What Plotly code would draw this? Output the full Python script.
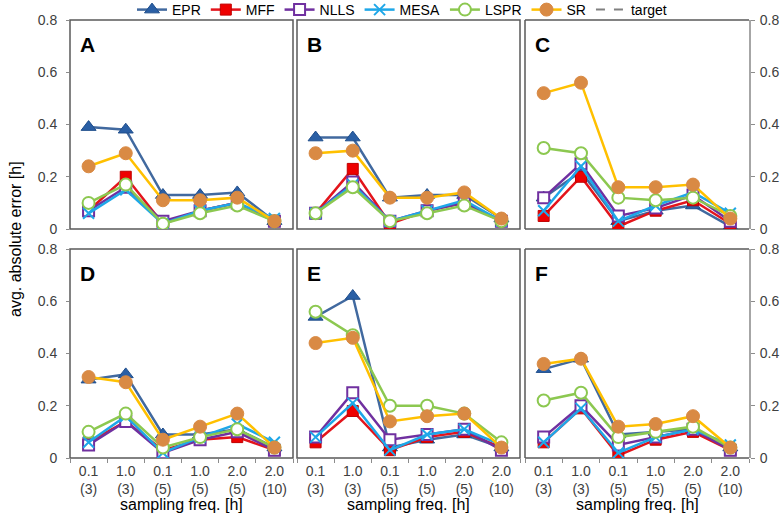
import plotly.graph_objects as go

categories = ["0.1<br>(3)", "1.0<br>(3)", "0.1<br>(5)", "1.0<br>(5)", "2.0<br>(5)", "2.0<br>(10)"]
panel_labels = ["A", "B", "C", "D", "E", "F"]

# values per panel A..F
EPR = [
    [0.39, 0.38, 0.13, 0.13, 0.14, 0.03],
    [0.35, 0.35, 0.12, 0.13, 0.13, 0.04],
    [0.12, 0.22, 0.03, 0.07, 0.09, 0.01],
    [0.30, 0.32, 0.09, 0.09, 0.11, 0.04],
    [0.54, 0.62, 0.04, 0.07, 0.09, 0.04],
    [0.34, 0.38, 0.09, 0.10, 0.11, 0.04],
]
MFF = [
    [0.07, 0.20, 0.02, 0.07, 0.10, 0.03],
    [0.06, 0.23, 0.02, 0.07, 0.10, 0.03],
    [0.05, 0.20, 0.01, 0.07, 0.11, 0.02],
    [0.06, 0.14, 0.03, 0.07, 0.08, 0.03],
    [0.06, 0.18, 0.03, 0.08, 0.10, 0.04],
    [0.06, 0.19, 0.01, 0.07, 0.10, 0.03],
]
NLLS = [
    [0.07, 0.16, 0.03, 0.07, 0.10, 0.03],
    [0.06, 0.18, 0.03, 0.07, 0.10, 0.03],
    [0.12, 0.25, 0.05, 0.08, 0.13, 0.03],
    [0.05, 0.14, 0.02, 0.07, 0.10, 0.03],
    [0.08, 0.25, 0.07, 0.09, 0.11, 0.03],
    [0.08, 0.20, 0.05, 0.08, 0.11, 0.03],
]
MESA = [
    [0.06, 0.15, 0.02, 0.07, 0.10, 0.04],
    [0.06, 0.17, 0.03, 0.07, 0.11, 0.03],
    [0.07, 0.24, 0.03, 0.09, 0.14, 0.06],
    [0.06, 0.16, 0.02, 0.08, 0.13, 0.06],
    [0.08, 0.21, 0.03, 0.09, 0.11, 0.05],
    [0.06, 0.19, 0.02, 0.08, 0.11, 0.05],
]
LSPR = [
    [0.10, 0.17, 0.02, 0.06, 0.09, 0.03],
    [0.06, 0.16, 0.03, 0.06, 0.09, 0.03],
    [0.31, 0.29, 0.12, 0.11, 0.12, 0.05],
    [0.10, 0.17, 0.04, 0.08, 0.11, 0.04],
    [0.56, 0.47, 0.20, 0.20, 0.17, 0.06],
    [0.22, 0.25, 0.08, 0.10, 0.12, 0.04],
]
SR = [
    [0.24, 0.29, 0.11, 0.11, 0.12, 0.03],
    [0.29, 0.30, 0.12, 0.12, 0.14, 0.04],
    [0.52, 0.56, 0.16, 0.16, 0.17, 0.04],
    [0.31, 0.29, 0.07, 0.12, 0.17, 0.04],
    [0.44, 0.46, 0.14, 0.16, 0.17, 0.04],
    [0.36, 0.38, 0.12, 0.13, 0.16, 0.04],
]

FONT = "Liberation Sans, Arial, sans-serif"
W, H = 784, 527
ML, MR, MT, MB = 70, 34, 20, 69
PW, PH = W - ML - MR, H - MT - MB

# panel pixel boxes (x0, x1) and (ytop, ybottom)
cols = [(70, 293), (297, 520), (525, 749)]
rows = [(20, 229), (249, 458)]

def xd(a, b):
    return [(a - ML) / PW, (b - ML) / PW]

def yd(top, bot):
    return [1 - (bot - MT) / PH, 1 - (top - MT) / PH]

series = [
    ("EPR", EPR, dict(color="#41699F", width=2.5),
     dict(symbol="triangle-up", size=13, color="#2A5FA5", line=dict(color="#1F4E8C", width=1))),
    ("MFF", MFF, dict(color="#E3141B", width=2.5),
     dict(symbol="square", size=11, color="#EE0000", line=dict(color="#C00000", width=1))),
    ("NLLS", NLLS, dict(color="#7030A0", width=2.5),
     dict(symbol="square", size=11, color="white", line=dict(color="#7030A0", width=2))),
    ("MESA", MESA, dict(color="#1EA7E8", width=2.5),
     dict(symbol="x-thin", size=11, color="#1EA7E8", line=dict(color="#1EA7E8", width=2))),
    ("LSPR", LSPR, dict(color="#8CC850", width=2.5),
     dict(symbol="circle", size=12, color="white", line=dict(color="#8CC850", width=2))),
    ("SR", SR, dict(color="#FFC000", width=2.5),
     dict(symbol="circle", size=13, color="#D98A44", line=dict(color="#D98A44", width=1))),
]

fig = go.Figure()
shapes = []
annotations = []

for p in range(6):
    r, c = divmod(p, 3)
    idx = p + 1
    xa = "x" if idx == 1 else f"x{idx}"
    ya = "y" if idx == 1 else f"y{idx}"
    for name, data, ln, mk in series:
        fig.add_trace(go.Scatter(
            x=categories, y=data[p], name=name, mode="lines+markers",
            line=ln, marker=mk, xaxis=xa, yaxis=ya,
            legendgroup=name, showlegend=(p == 0),
        ))
    x0, x1 = cols[c]
    yt, yb = rows[r]
    xkw = dict(
        domain=xd(x0, x1), type="category", range=[-0.5, 5.5],
        showgrid=False, zeroline=False, showline=False,
        tickfont=dict(family=FONT, size=14, color="#404040"),
        anchor=ya, fixedrange=True,
    )
    if r == 1:
        xkw.update(ticks="outside", ticklen=4, tickcolor="#8C8C8C", tickwidth=1,
                   tickson="boundaries", showticklabels=True, ticklabelstandoff=3)
    else:
        xkw.update(ticks="", showticklabels=False)
    ykw = dict(
        domain=yd(yt, yb), range=[0, 0.8], dtick=0.2, tick0=0,
        showgrid=False, zeroline=False,
        tickfont=dict(family=FONT, size=14, color="#404040"),
        tickformat="~g", anchor=xa, fixedrange=True,
    )
    if c == 0:
        ykw.update(showticklabels=True, ticks="outside", ticklen=3, tickcolor="#8C8C8C",
                   showline=False, side="left", ticklabelstandoff=6)
    elif c == 2:
        ykw.update(showticklabels=True, ticks="outside", ticklen=4, tickcolor="#8C8C8C",
                   showline=True, linecolor="#A6A6A6", linewidth=2, side="right",
                   ticklabelstandoff=2)
    else:
        ykw.update(showticklabels=False, ticks="")
    fig.layout[("xaxis" if idx == 1 else f"xaxis{idx}")] = xkw
    fig.layout[("yaxis" if idx == 1 else f"yaxis{idx}")] = ykw

    xr = f"{xa} domain"
    yr = f"{ya} domain"
    if c == 2:
        for (ax0, ay0, ax1, ay1) in [(0, 0, 0, 1), (0, 1, 1, 1), (0, 0, 1, 0)]:
            shapes.append(dict(type="line", xref=xr, yref=yr, x0=ax0, y0=ay0, x1=ax1, y1=ay1,
                               line=dict(color="#595959", width=1.5), layer="below"))
    else:
        shapes.append(dict(type="rect", xref=xr, yref=yr, x0=0, y0=0, x1=1, y1=1,
                           line=dict(color="#595959", width=1.5), layer="below"))
    annotations.append(dict(
        text=f"<b>{panel_labels[p]}</b>", xref=xr, yref=yr,
        x=8 / (x1 - x0), y=1 - 24 / (yb - yt), xanchor="left", yanchor="middle",
        showarrow=False, font=dict(family=FONT, size=21, color="black"),
    ))
    if r == 1:
        annotations.append(dict(
            text="sampling freq. [h]", xref=xr, yref="paper",
            x=0.5, y=-(505 - (MT + PH)) / PH, xanchor="center", yanchor="middle",
            showarrow=False, font=dict(family=FONT, size=16, color="black"),
        ))

# target legend entry
fig.add_trace(go.Scatter(
    x=[None], y=[None], name="target", mode="lines",
    line=dict(color="#808080", width=2, dash="dash"), xaxis="x", yaxis="y",
))

annotations.append(dict(
    text="avg. absolute error [h]", xref="paper", yref="paper",
    x=-(ML - 15) / PW, y=1 - (239 - MT) / PH, textangle=-90,
    xanchor="center", yanchor="middle", showarrow=False,
    font=dict(family=FONT, size=16, color="black"),
))

fig.update_layout(
    width=W, height=H,
    margin=dict(l=ML, r=MR, t=MT, b=MB, autoexpand=False),
    paper_bgcolor="white", plot_bgcolor="white",
    font=dict(family=FONT, size=14, color="black"),
    showlegend=True,
    legend=dict(
        orientation="h", x=(402 - ML) / PW, xanchor="center",
        y=1 + (MT - 10) / PH, yanchor="middle",
        font=dict(family=FONT, size=14, color="black"),
        itemwidth=30, tracegroupgap=0, bgcolor="rgba(0,0,0,0)",
    ),
    shapes=shapes, annotations=annotations,
)

fig.write_html("out.html", config={"displayModeBar": False},
               post_script="document.body.style.margin='0';")
